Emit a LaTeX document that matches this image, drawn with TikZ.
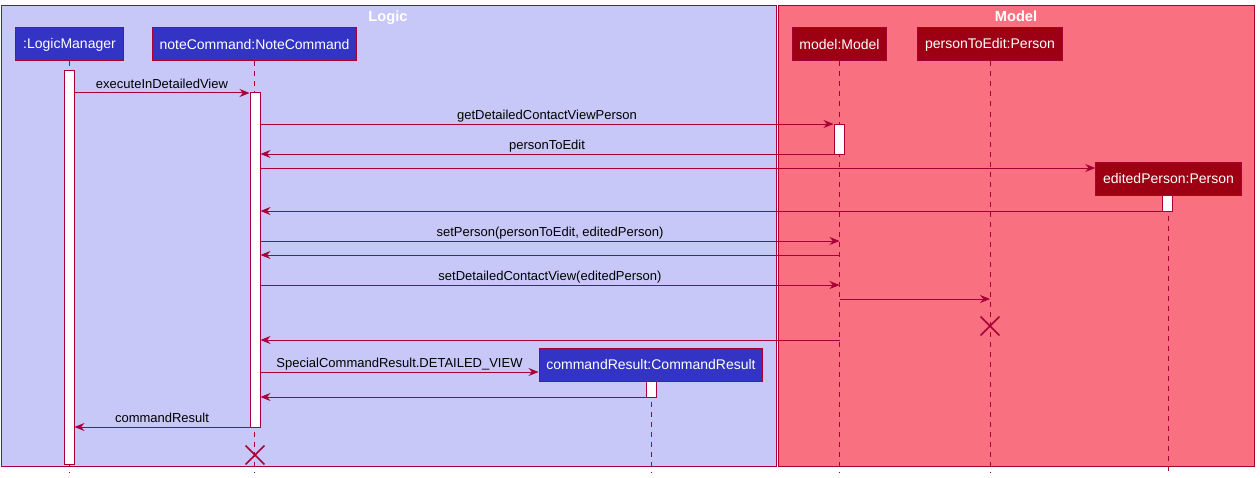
\documentclass[tikz,border=0pt]{standalone}
\usepackage{fontspec}
\setmainfont{Liberation Sans}
\usetikzlibrary{arrows.meta, shapes.misc}

\definecolor{umlred}{HTML}{A80036}
\definecolor{logicbg}{HTML}{C8C8F8}
\definecolor{modelbg}{HTML}{F97181}
\definecolor{logicbox}{HTML}{3333C4}
\definecolor{modelbox}{HTML}{9D0012}

\begin{document}
\begin{tikzpicture}[
    x=0.75pt, y=-0.75pt,
    font=\fontsize{9.75}{11}\selectfont,
    frame/.style={draw=umlred, line width=0.75pt},
    title/.style={text=white, anchor=base, inner sep=0pt,
                  font=\fontsize{11}{13}\selectfont\bfseries},
    logicpart/.style={rectangle, draw=umlred, line width=0.75pt, fill=logicbox,
                      text=white, minimum height=24.75pt, inner xsep=5.5pt,
                      font=\fontsize{10.5}{12}\selectfont},
    modelpart/.style={logicpart, fill=modelbox},
    life/.style={draw=umlred, line width=0.75pt, dash pattern=on 3.75pt off 3.75pt},
    bar/.style={rectangle, draw=umlred, fill=white, line width=0.75pt,
                minimum width=7.5pt, inner sep=0pt},
    msg/.style={draw=umlred, line width=0.75pt,
                -{Stealth[length=7.5pt, width=6pt, inset=2.5pt]}},
    lbl/.style={anchor=south, inner sep=0pt, text depth=0pt, yshift=3pt},
    destroy/.style={cross out, draw=umlred, line width=1.1pt,
                    minimum size=13pt, inner sep=0pt}
  ]

  \useasboundingbox (0,0) rectangle (1260,478);

  % Boxes
  \path[frame, fill=logicbg] (1,6) rectangle (776,466);
  \path[frame, fill=modelbg] (778,6) rectangle (1254,466);
  \node[title] (logictitle) at (388,22) {Logic};
  \node[title] (modeltitle) at (1016,22) {Model};

  % Participants
  \node[logicpart] (lm)  at (69.5,44.5)  {:LogicManager};
  \node[logicpart] (nc)  at (254.5,44.5) {noteCommand:NoteCommand};
  \node[modelpart] (mdl) at (839.5,44.5) {model:Model};
  \node[modelpart] (pte) at (990,44.5)   {personToEdit:Person};
  \node[modelpart] (ep)  at (1168.5,178.5) {editedPerson:Person};
  \node[logicpart] (cr)  at (651,364.5)  {commandResult:CommandResult};

  % Lifelines
  \draw[life] (lm.south)  -- (lm.south |- 0,472);
  \draw[life] (nc.south)  -- (nc.south |- 0,472);
  \draw[life] (mdl.south) -- (mdl.south |- 0,472);
  \draw[life] (pte.south) -- (pte.south |- 0,472);
  \draw[life] (ep.south)  -- (ep.south |- 0,472);
  \draw[life] (cr.south)  -- (cr.south |- 0,472);

  % Activations
  \node[bar, minimum height=294.75pt] (lmbar)  at (69,267.5)  {};
  \node[bar, minimum height=250.5pt]  (ncbar)  at (255,260)   {};
  \node[bar, minimum height=22.5pt]   (mdlbar) at (839,139)   {};
  \node[bar, minimum height=12pt]     (epbar)  at (1167,203)  {};
  \node[bar, minimum height=12pt]     (crbar)  at (651,389)   {};

  % Messages
  \draw[msg] (lmbar.east |- 0,93) -- node[lbl]{executeInDetailedView} (ncbar.west |- 0,93);
  \draw[msg] (ncbar.east |- 0,124) -- node[lbl]{getDetailedContactViewPerson} (mdlbar.west |- 0,124);
  \draw[msg] (mdlbar.west |- 0,154) -- node[lbl]{personToEdit} (ncbar.east |- 0,154);
  \draw[msg] (ncbar.east |- 0,168) -- (ep.west |- 0,168);
  \draw[msg] (epbar.west |- 0,211) -- (ncbar.east |- 0,211);
  \draw[msg] (ncbar.east |- 0,241) -- node[lbl]{setPerson(personToEdit, editedPerson)} (mdl.south |- 0,241);
  \draw[msg] (mdl.south |- 0,255) -- (ncbar.east |- 0,255);
  \draw[msg] (ncbar.east |- 0,285) -- node[lbl]{setDetailedContactView(editedPerson)} (mdl.south |- 0,285);
  \draw[msg] (mdl.south |- 0,299) -- (pte.south |- 0,299);
  \node[destroy] (ptex) at (990,326) {};
  \draw[msg] (mdl.south |- 0,340) -- (ncbar.east |- 0,340);
  \draw[msg] (ncbar.east |- 0,372) -- node[lbl]{SpecialCommandResult.DETAILED\_VIEW} (cr.west |- 0,372);
  \draw[msg] (crbar.west |- 0,397) -- (ncbar.east |- 0,397);
  \draw[msg] (ncbar.west |- 0,427) -- node[lbl]{commandResult} (lmbar.east |- 0,427);
  \node[destroy] (ncx) at (255,455) {};

\end{tikzpicture}
\end{document}
